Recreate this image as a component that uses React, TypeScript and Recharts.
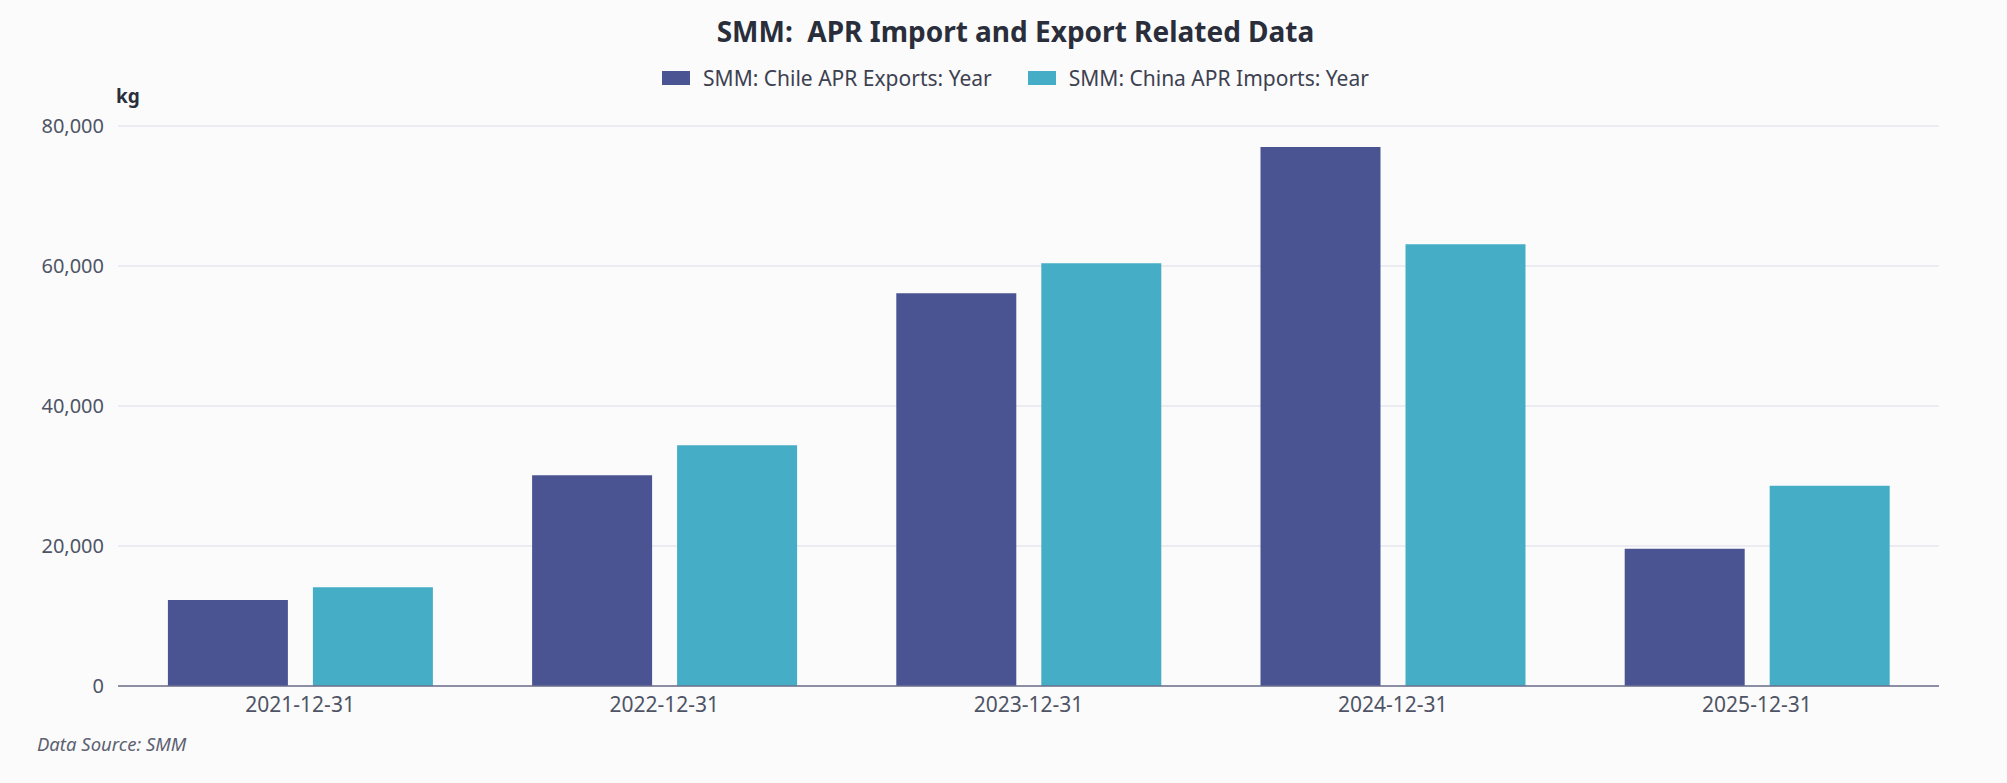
import React from "react";
import { BarChart, Bar, XAxis, YAxis, CartesianGrid } from "recharts";

// Valores (kg por ano)
const categorias = ["2021-12-31", "2022-12-31", "2023-12-31", "2024-12-31", "2025-12-31"];
const chileExports = [12300, 30100, 56100, 77000, 19600];
const chinaImports = [14100, 34400, 60400, 63100, 28600];
const yTicks = [0, 20000, 40000, 60000, 80000];

const SERIES = [
  { key: "chile", nome: "SMM: Chile APR Exports: Year", cor: "#4b5493" },
  { key: "china", nome: "SMM: China APR Imports: Year", cor: "#45aec6" },
];

const dados = categorias.map((c, i) => ({
  data: c,
  chile: chileExports[i],
  china: chinaImports[i],
}));

const FONTE = "'Noto Sans', 'Open Sans', sans-serif";

function Legenda() {
  return (
    <div
      style={{
        position: "absolute",
        top: 64,
        left: 12,
        width: 2007,
        display: "flex",
        justifyContent: "center",
        gap: 36,
        fontSize: 21,
        color: "#3d4150",
      }}
    >
      {SERIES.map((s) => (
        <div key={s.key} style={{ display: "flex", alignItems: "center", gap: 13 }}>
          <span style={{ width: 28, height: 14, background: s.cor, display: "inline-block" }} />
          <span>{s.nome}</span>
        </div>
      ))}
    </div>
  );
}

export default function App() {
  return (
    <div
      style={{
        position: "fixed",
        left: 0,
        top: 0,
        width: 2007,
        height: 783,
        background: "#fbfbfc",
        fontFamily: FONTE,
      }}
    >
      <div
        style={{
          position: "absolute",
          top: 12,
          left: 12,
          width: 2007,
          textAlign: "center",
          fontSize: 28,
          fontWeight: 700,
          color: "#2a2e3b",
        }}
      >
        SMM:&nbsp; APR Import and Export Related Data
      </div>
      <Legenda />
      <div
        style={{
          position: "absolute",
          top: 83,
          left: 116,
          fontSize: 19,
          fontWeight: 700,
          color: "#2a2e3b",
        }}
      >
        kg
      </div>
      <BarChart
        width={2007}
        height={783}
        data={dados}
        margin={{ top: 126, right: 68, bottom: 57, left: 38 }}
        barCategoryGap="13.7%"
        barGap={25}
      >
        <CartesianGrid vertical={false} stroke="#e6e6ee" strokeWidth={1.5} />
        <XAxis
          dataKey="data"
          height={40}
          tickLine={false}
          tickSize={6}
          tickMargin={5}
          axisLine={{ stroke: "#6c6f8c", strokeWidth: 1.5 }}
          tick={{ fontSize: 21, fill: "#4f5465", fontFamily: FONTE }}
        />
        <YAxis
          width={80}
          domain={[0, 80000]}
          ticks={yTicks}
          tickLine={false}
          axisLine={false}
          tickSize={6}
          tickMargin={8}
          tickFormatter={(v: number) => v.toLocaleString("en-US")}
          tick={{ fontSize: 20, fill: "#4f5465", fontFamily: FONTE }}
        />
        {SERIES.map((s) => (
          <Bar
            key={s.key}
            dataKey={s.key}
            name={s.nome}
            fill={s.cor}
            isAnimationActive={false}
          />
        ))}
      </BarChart>
      <div
        style={{
          position: "absolute",
          top: 731,
          left: 37,
          fontSize: 18.5,
          fontStyle: "italic",
          color: "#5d6170",
        }}
      >
        Data Source: SMM
      </div>
    </div>
  );
}
